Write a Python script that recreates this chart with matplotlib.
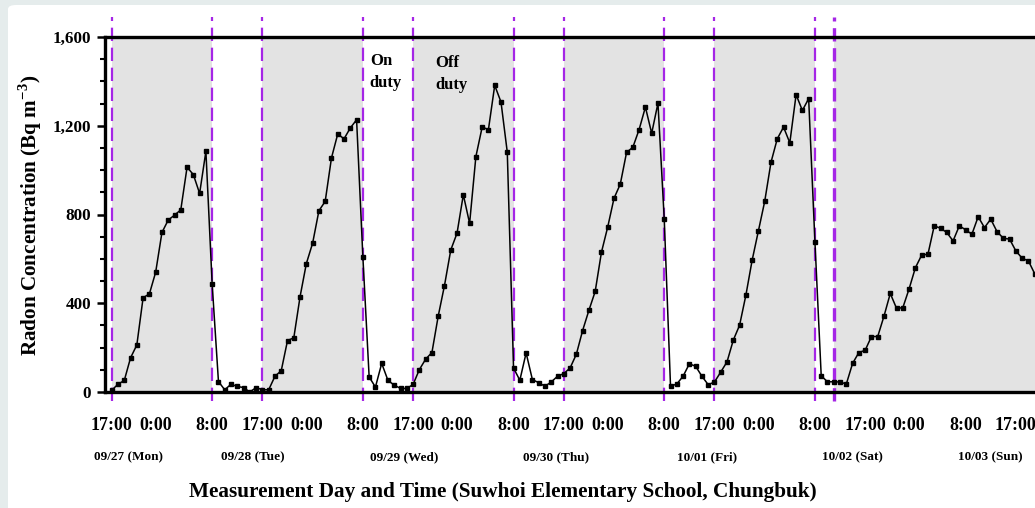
import numpy as np
import matplotlib
matplotlib.use("Agg")
import matplotlib.pyplot as plt
from matplotlib.patches import FancyBboxPatch
from matplotlib.ticker import MultipleLocator, FuncFormatter
import matplotlib.transforms as mtransforms

# hourly radon readings, sample index 0 = 09/27 17:00
radon = [8, 35, 52, 154, 212, 425, 442, 540, 719, 775, 797, 821, 1013, 980, 895, 1085,
         485, 47, 10, 35, 25, 20, 0, 20,
         10, 10, 71, 96, 232, 244, 430, 579, 671, 817, 859, 1055, 1163, 1141, 1190, 1227,
         610, 68, 22, 129, 52, 31, 16, 16,
         34, 101, 148, 178, 342, 480, 640, 716, 889, 760, 1061, 1194, 1183, 1382, 1307, 1081,
         108, 53, 176, 56, 42, 26, 45, 71,
         83, 108, 170, 277, 368, 453, 630, 744, 873, 937, 1080, 1103, 1183, 1284, 1166, 1302,
         780, 26, 36, 71, 127, 116, 71, 33,
         45, 90, 136, 234, 301, 436, 594, 726, 859, 1035, 1141, 1194, 1123, 1340, 1269, 1322,
         678, 73, 46, 46, 45, 36, 129, 178, 188, 250, 250, 342, 444, 377, 380, 465, 560,
         617, 621, 749, 738, 719, 681, 749, 731, 711, 790, 741, 779, 723, 693, 689, 636,
         603, 591, 533]
hours = np.arange(len(radon))

# off-duty periods (grey), in sample index
off_start = [0, 24, 48, 72, 96, 115]
off_end = [16, 40, 64, 88, 112, 150]
dash_lines = [0, 16, 24, 40, 48, 64, 72, 88, 96, 112]
weekend_line = 115

time_pos = [0, 7, 16, 24, 31, 40, 48, 55, 64, 72, 79, 88, 96, 103, 112, 120, 127, 136, 144]
time_lab = ["17:00", "0:00", "8:00", "17:00", "0:00", "8:00", "17:00", "0:00", "8:00",
            "17:00", "0:00", "8:00", "17:00", "0:00", "8:00", "17:00", "0:00", "8:00", "17:00"]
day_pos = [2.6, 22.4, 46.6, 70.8, 94.8, 117.9, 140]
day_lab = ["09/27 (Mon)", "09/28 (Tue)", "09/29 (Wed)", "09/30 (Thu)",
           "10/01 (Fri)", "10/02 (Sat)", "10/03 (Sun)"]

serif = "Liberation Serif"
plt.rcParams['font.family'] = serif
plt.rcParams['font.weight'] = 'bold'
plt.rcParams['mathtext.fontset'] = 'custom'
plt.rcParams['mathtext.bf'] = 'Liberation Serif:bold'
plt.rcParams['mathtext.rm'] = 'Liberation Serif:bold'

W, H = 1035, 508
fig = plt.figure(figsize=(W / 100, H / 100), dpi=100, facecolor='#e5ecec')
card = FancyBboxPatch((8 / W, -0.05), 1.2, (H - 5) / H + 0.05,
                      boxstyle="round,pad=0,rounding_size=0.008",
                      transform=fig.transFigure, facecolor='white', edgecolor='none', zorder=-10)
fig.patches.append(card)

ax = fig.add_axes([105 / W, (H - 392) / H, 1 - 105 / W, 355 / H])
ax.set_zorder(1)
ax.set_facecolor('white')

for s, e in zip(off_start, off_end):
    ax.axvspan(s, e, color='#e3e3e3', lw=0, zorder=0)

for x in dash_lines:
    ax.axvline(x, ymin=-0.024, ymax=1.055, color='#a526e6', lw=1.6,
               dashes=(6, 3), clip_on=False, zorder=1)
ax.axvline(weekend_line, ymin=-0.024, ymax=1.055, color='#a526e6', lw=2.4,
           dashes=(4, 2), clip_on=False, zorder=1)

ax.plot(hours, radon, color='black', lw=1.1, marker='s', ms=2.3, zorder=3)

ax.set_xlim(-1.07, 147.05)
ax.set_ylim(0, 1600)

for sp in ['top', 'bottom', 'left']:
    ax.spines[sp].set_linewidth(2.4)
ax.spines['right'].set_visible(False)

ax.yaxis.set_major_locator(MultipleLocator(400))
ax.yaxis.set_minor_locator(MultipleLocator(100))
ax.yaxis.set_major_formatter(FuncFormatter(lambda v, p: f"{int(v):,}"))
ax.tick_params(axis='y', which='major', length=6, width=1.8, pad=4, labelsize=12.3)
ax.tick_params(axis='y', which='minor', length=3.5, width=1.5)

ax.set_xticks(time_pos)
ax.set_xticklabels(time_lab)
ax.tick_params(axis='x', length=0, pad=18, labelsize=13)

trans = mtransforms.blended_transform_factory(ax.transData, ax.transAxes)
for x, lab in zip(day_pos, day_lab):
    ax.text(x, -0.183, lab, transform=trans, ha='center', va='center',
            fontsize=9.5, fontweight='bold')

ax.text(41.1, 1530, "On\nduty", ha='left', va='top', fontsize=12,
        fontweight='bold', linespacing=1.5)
ax.text(51.6, 1520, "Off\nduty", ha='left', va='top', fontsize=12,
        fontweight='bold', linespacing=1.5)

fig.text(503 / W, 1 - 492 / H,
         "Measurement Day and Time (Suwhoi Elementary School, Chungbuk)",
         ha='center', va='center', fontsize=15.3, fontweight='bold')
fig.text(30 / W, 1 - 215 / H, r"Radon Concentration (Bq m$^{\mathbf{-3}}$)",
         rotation=90, ha='center', va='center', fontsize=15.2, fontweight='bold')

fig.savefig("out.png", dpi=100, facecolor=fig.get_facecolor())
